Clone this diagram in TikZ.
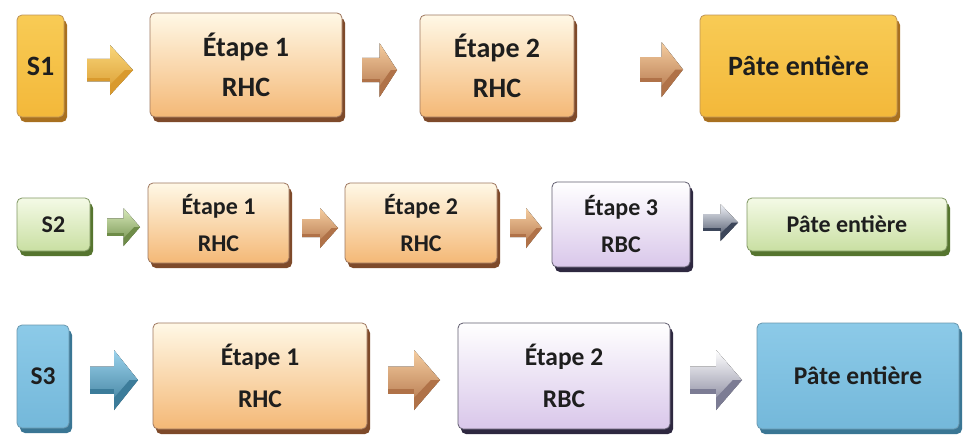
\documentclass[tikz,border=0pt]{standalone}
\usepackage{fontspec}
\setmainfont{Carlito}
\usetikzlibrary{shadows}
\definecolor{txt}{HTML}{1E1E1E}
\definecolor{orA}{HTML}{F8CB55}\definecolor{orB}{HTML}{F3B83A}\definecolor{orD}{HTML}{A87020}
\definecolor{peA}{HTML}{FFF8E6}\definecolor{peB}{HTML}{F4B876}\definecolor{peD}{HTML}{7E4A2A}
\definecolor{grA}{HTML}{F4FAE6}\definecolor{grB}{HTML}{C9DFA2}\definecolor{grD}{HTML}{56752F}
\definecolor{puA}{HTML}{FFFFFF}\definecolor{puB}{HTML}{D9C7EA}\definecolor{puD}{HTML}{2E2840}
\definecolor{blA}{HTML}{8CCAE8}\definecolor{blB}{HTML}{74B8DA}\definecolor{blD}{HTML}{3A7694}
\definecolor{arOA}{HTML}{F9D67A}\definecolor{arOB}{HTML}{D99A2E}
\definecolor{arPA}{HTML}{F5CDA0}\definecolor{arPB}{HTML}{B07248}
\definecolor{arGA}{HTML}{D8EABA}\definecolor{arGB}{HTML}{6E8C48}
\definecolor{arSA}{HTML}{F2F4FA}\definecolor{arSB}{HTML}{3C465A}
\definecolor{arBA}{HTML}{9AD2EC}\definecolor{arBB}{HTML}{3C7C9A}
\definecolor{arWA}{HTML}{FFFFFF}\definecolor{arWB}{HTML}{7C7C94}
\tikzset{
  boxbase/.style={rounded corners=5pt, line width=0.8pt, align=center,
    text=txt, font=\rowfont, inner sep=0pt}
}
\newcommand\rowfont{\bfseries}
\newcommand\bbox[9]{%
  \pgfmathsetmacro\mybw{#4-#2-3}%
  \pgfmathsetmacro\mybh{#5-#3-5}%
  \node[boxbase, minimum width=\mybw pt, minimum height=\mybh pt,
    top color=#6, bottom color=#7, draw=#8!75,
    drop shadow={fill=#8, shadow xshift=3pt, shadow yshift=-5pt, opacity=1}]
    (#1) at ({#2+\mybw/2},{#3+\mybh/2}) {#9};}
\newcommand\barrow[7]{%
  \pgfmathsetmacro\myyc{(#4+#5)/2}%
  \pgfmathsetmacro\myhh{(#5-#4)/2}%
  \pgfmathsetmacro\mybd{0.45*\myhh}%
  \pgfmathsetmacro\myxm{#2+0.5*(#3-#2)}%
  \coordinate (#1) at (\myxm,\myyc);
  \fill[top color=#6, bottom color=#7]
    (#2,\myyc-\mybd) -- (\myxm,\myyc-\mybd) -- (\myxm,\myyc-\myhh) -- (#3,\myyc)
    -- (\myxm,\myyc+\myhh) -- (\myxm,\myyc+\mybd) -- (#2,\myyc+\mybd) -- cycle;
  \fill[#7] (#3,\myyc) -- (\myxm,\myyc+\myhh) -- (\myxm,\myyc+0.6*\myhh)
    -- ({#3-0.35*(#3-\myxm)},\myyc) -- cycle;
  \fill[#7] (#2,\myyc+\mybd) -- (\myxm,\myyc+\mybd) -- (\myxm,\myyc+0.7*\mybd)
    -- (#2,\myyc+0.7*\mybd) -- cycle;}
\begin{document}
\begin{tikzpicture}[x=1pt,y=-1pt]
\useasboundingbox[fill=white] (0,0) rectangle (964,434);
% ---------- Row 1
\renewcommand\rowfont{\fontsize{28}{40}\selectfont\bfseries}
\bbox{s1}{17}{15}{67}{122}{orA}{orB}{orD}{S1}
\barrow{a11}{87}{133}{45}{95}{arOA}{arOB}
\bbox{r1e1}{150}{13}{345}{122}{peA}{peB}{peD}{Étape 1\\RHC}
\barrow{a12}{362}{397}{43}{97}{arPA}{arPB}
\bbox{r1e2}{420}{15}{577}{122}{peA}{peB}{peD}{Étape 2\\RHC}
\barrow{a13}{640}{683}{42}{97}{arPA}{arPB}
\bbox{p1}{700}{15}{900}{122}{orA}{orB}{orD}{Pâte entière}
% ---------- Row 2
\renewcommand\rowfont{\fontsize{24}{37}\selectfont\bfseries}
\bbox{s2}{17}{198}{93}{256}{grA}{grB}{grD}{S2}
\barrow{a21}{107}{140}{208}{246}{arGA}{arGB}
\bbox{r2e1}{148}{183}{292}{268}{peA}{peB}{peD}{Étape 1\\RHC}
\barrow{a22}{302}{338}{208}{248}{arPA}{arPB}
\bbox{r2e2}{345}{183}{500}{268}{peA}{peB}{peD}{Étape 2\\RHC}
\barrow{a23}{510}{542}{208}{248}{arPA}{arPB}
\bbox{r2e3}{552}{182}{693}{272}{puA}{puB}{puD}{Étape 3\\RBC}
\barrow{a24}{703}{738}{204}{241}{arSA}{arSB}
\bbox{p2}{747}{198}{950}{256}{grA}{grB}{grD}{Pâte entière}
% ---------- Row 3
\renewcommand\rowfont{\fontsize{25.5}{42}\selectfont\bfseries}
\bbox{s3}{17}{325}{72}{433}{blA}{blB}{blD}{S3}
\barrow{a31}{90}{138}{350}{410}{arBA}{arBB}
\bbox{r3e1}{153}{323}{370}{434}{peA}{peB}{peD}{Étape 1\\RHC}
\barrow{a32}{388}{440}{350}{410}{arPA}{arPB}
\bbox{r3e2}{458}{323}{673}{434}{puA}{puB}{puD}{Étape 2\\RBC}
\barrow{a33}{690}{742}{350}{410}{arWA}{arWB}
\bbox{p3}{757}{323}{962}{434}{blA}{blB}{blD}{Pâte entière}
\end{tikzpicture}
\end{document}
